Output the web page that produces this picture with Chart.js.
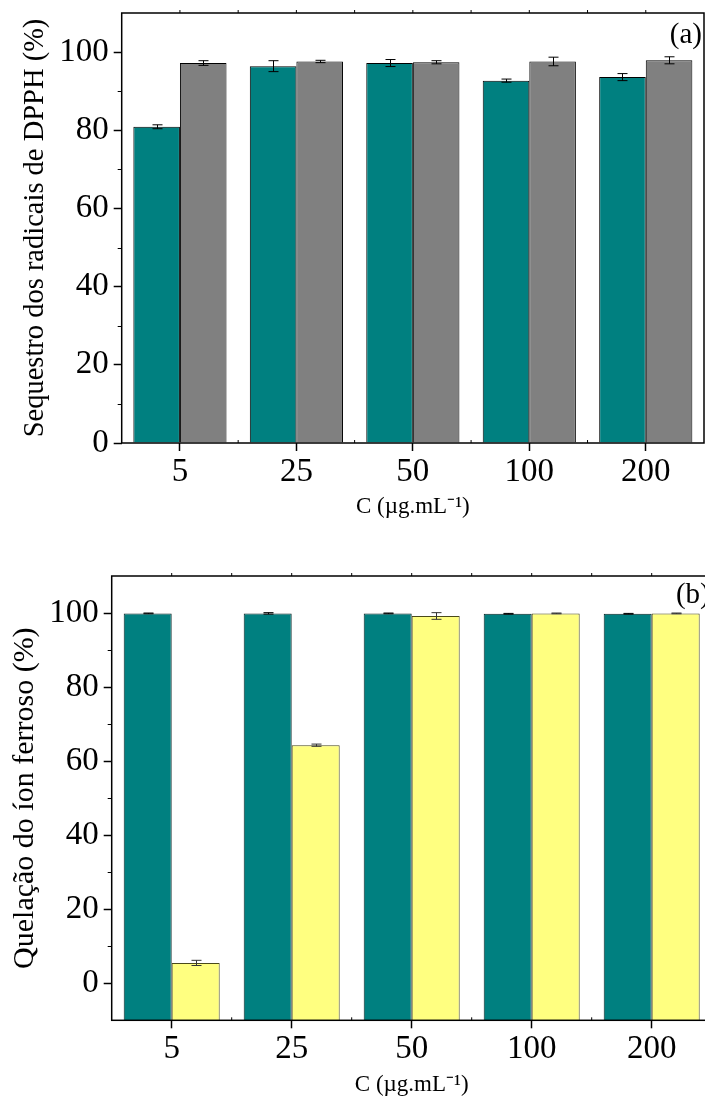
<!DOCTYPE html>
<html>
<head>
<meta charset="utf-8">
<script src="https://cdn.jsdelivr.net/npm/chart.js@4.4.1/dist/chart.umd.min.js"></script>
<style>
  html, body { margin: 0; padding: 0; background: #fff; overflow: hidden; }
  #wrapA { position: absolute; left: 0; top: 0; width: 705px; height: 530px; }
  #wrapB { position: absolute; left: 0; top: 550px; width: 720px; height: 550px; }
</style>
</head>
<body>
<div id="wrapA"><canvas id="chartA" width="705" height="530"></canvas></div>
<div id="wrapB"><canvas id="chartB" width="720" height="550"></canvas></div>
<script>
// Data
const categories = ['5', '25', '50', '100', '200'];

// (a) DPPH radical scavenging (%)
const dpphTeal = [80.9, 96.4, 97.2, 92.7, 93.6];
const dpphTealErr = [0.5, 1.4, 0.9, 0.4, 0.9];
const dpphGray = [97.2, 97.6, 97.4, 97.6, 97.9];
const dpphGrayErr = [0.6, 0.3, 0.4, 1.1, 0.9];

// (b) ferrous ion chelation (%)
const chelTeal = [99.9, 99.9, 99.9, 99.8, 99.8];
const chelTealErr = [0.1, 0.2, 0.1, 0.1, 0.1];
const chelYellow = [5.5, 64.3, 99.2, 99.9, 99.9];
const chelYellowErr = [0.7, 0.3, 0.9, 0.1, 0.1];

const yTicks = [0, 20, 40, 60, 80, 100];
const yMinorTicks = [10, 30, 50, 70, 90];

const SERIF = "'Liberation Serif', 'Times New Roman', serif";
Chart.defaults.font.family = SERIF;
Chart.defaults.color = '#000';

// error bars drawn from the value scale
const errorBars = {
    id: 'errorBars',
    afterDatasetsDraw(chart, args, opts) {
        const ctx = chart.ctx;
        const yScale = chart.scales.y;
        ctx.save();
        chart.data.datasets.forEach((ds, i) => {
            const errs = opts.errors[i];
            if (!errs) return;
            const meta = chart.getDatasetMeta(i);
            ctx.strokeStyle = opts.colors[i] || '#000';
            ctx.lineWidth = 1;
            meta.data.forEach((bar, j) => {
                const v = ds.data[j];
                const top = yScale.getPixelForValue(v + errs[j]);
                const bot = yScale.getPixelForValue(v - errs[j]);
                const x = Math.round(bar.x) + 0.5;
                ctx.beginPath();
                ctx.moveTo(x, top); ctx.lineTo(x, bot);
                ctx.moveTo(x - 5, top); ctx.lineTo(x + 5, top);
                ctx.moveTo(x - 5, bot); ctx.lineTo(x + 5, bot);
                ctx.stroke();
            });
        });
        ctx.restore();
    }
};

// frame, minor ticks and panel letter
const frame = {
    id: 'frame',
    afterDraw(chart, args, opts) {
        const ctx = chart.ctx;
        const a = chart.chartArea;
        const xs = chart.scales.x;
        const ys = chart.scales.y;
        ctx.save();
        ctx.strokeStyle = '#000';
        ctx.lineWidth = 1.5;
        ctx.strokeRect(a.left, a.top, a.right - a.left, a.bottom - a.top);

        ctx.lineWidth = 1;
        ctx.beginPath();
        yMinorTicks.forEach(v => {
            const y = Math.round(ys.getPixelForValue(v)) + 0.5;
            ctx.moveTo(a.left - 4, y); ctx.lineTo(a.left, y);
        });
        const half = (xs.getPixelForValue(1) - xs.getPixelForValue(0)) / 2;
        categories.forEach((c, i) => {
            const cx = xs.getPixelForValue(i);
            ctx.moveTo(cx, a.top - 3); ctx.lineTo(cx, a.top);
            if (i < categories.length - 1) {
                const bx = cx + half;
                ctx.moveTo(bx, a.bottom); ctx.lineTo(bx, a.bottom - 3);
                ctx.moveTo(bx, a.top - 3); ctx.lineTo(bx, a.top);
            }
        });
        ctx.stroke();

        ctx.fillStyle = '#000';
        ctx.font = '29px ' + SERIF;
        ctx.textAlign = 'right';
        ctx.textBaseline = 'middle';
        ctx.fillText(opts.text, a.right - 2, a.top + opts.dy);
        ctx.restore();
    }
};

function makeChart(id, cfg) {
    return new Chart(document.getElementById(id), {
        type: 'bar',
        data: {
            labels: categories,
            datasets: cfg.datasets
        },
        options: {
            responsive: false,
            animation: false,
            layout: { padding: cfg.padding },
            plugins: {
                legend: { display: false },
                tooltip: { enabled: false },
                errorBars: { errors: cfg.errors, colors: cfg.errColors },
                frame: { text: cfg.letter, dy: cfg.letterDy }
            },
            scales: {
                x: {
                    offset: true,
                    afterFit: (s) => {
                        s.height = cfg.xHeight;
                        s.paddingLeft = 0;
                        s.paddingRight = 0;
                    },
                    grid: {
                        offset: false,
                        drawOnChartArea: false,
                        tickLength: 8,
                        tickColor: '#000',
                        tickWidth: 1.5
                    },
                    border: { display: false },
                    ticks: { font: { size: 33, lineHeight: 1 }, padding: 5, color: '#000' },
                    title: {
                        display: true,
                        text: 'C (µg.mL⁻¹)',
                        font: { size: 23 },
                        color: '#000',
                        padding: { top: 0, bottom: cfg.xTitlePad }
                    }
                },
                y: {
                    min: cfg.yMin,
                    max: 110,
                    afterFit: (s) => {
                        s.width = cfg.yWidth;
                        s.paddingTop = 0;
                        s.paddingBottom = 0;
                    },
                    afterBuildTicks: (s) => { s.ticks = yTicks.map(v => ({ value: v })); },
                    grid: {
                        drawOnChartArea: false,
                        tickLength: 8,
                        tickColor: '#000',
                        tickWidth: 1.5
                    },
                    border: { display: false },
                    ticks: { font: { size: 33, lineHeight: 1 }, padding: 5, color: '#000' },
                    title: {
                        display: true,
                        text: cfg.yTitle,
                        font: { size: cfg.yTitleSize },
                        color: '#000',
                        padding: { top: cfg.yTitlePad, bottom: 0 }
                    }
                }
            }
        },
        plugins: [errorBars, frame]
    });
}

makeChart('chartA', {
    datasets: [
        { data: dpphTeal, backgroundColor: '#008080', borderColor: '#000', borderWidth: 1,
          categoryPercentage: 0.8, barPercentage: 1.0 },
        { data: dpphGray, backgroundColor: '#808080', borderColor: '#000', borderWidth: 1,
          categoryPercentage: 0.8, barPercentage: 1.0 }
    ],
    errors: [dpphTealErr, dpphGrayErr],
    errColors: ['#000', '#000'],
    padding: { top: 13, right: 1, left: 0, bottom: 0 },
    xHeight: 87,
    yWidth: 121.7,
    yMin: 0,
    yTitle: 'Sequestro dos radicais de DPPH (%)',
    yTitleSize: 28.5,
    yTitlePad: 18,
    xTitlePad: 9,
    letter: '(a)',
    letterDy: 22
});

makeChart('chartB', {
    datasets: [
        { data: chelTeal, base: -10, backgroundColor: '#008080', borderColor: '#062020', borderWidth: 1,
          categoryPercentage: 0.8, barPercentage: 1.0 },
        { data: chelYellow, base: -10, backgroundColor: '#ffff80', borderColor: '#4a4a1a', borderWidth: 1,
          categoryPercentage: 0.8, barPercentage: 1.0 }
    ],
    errors: [chelTealErr, chelYellowErr],
    errColors: ['#000', '#333'],
    padding: { top: 26, right: 8.3, left: 0, bottom: 0 },
    xHeight: 79.7,
    yWidth: 111.7,
    yMin: -10,
    yTitle: 'Quelação do íon ferroso (%)',
    yTitleSize: 30,
    yTitlePad: 7,
    xTitlePad: 1,
    letter: '(b)',
    letterDy: 19
});
</script>
</body>
</html>
